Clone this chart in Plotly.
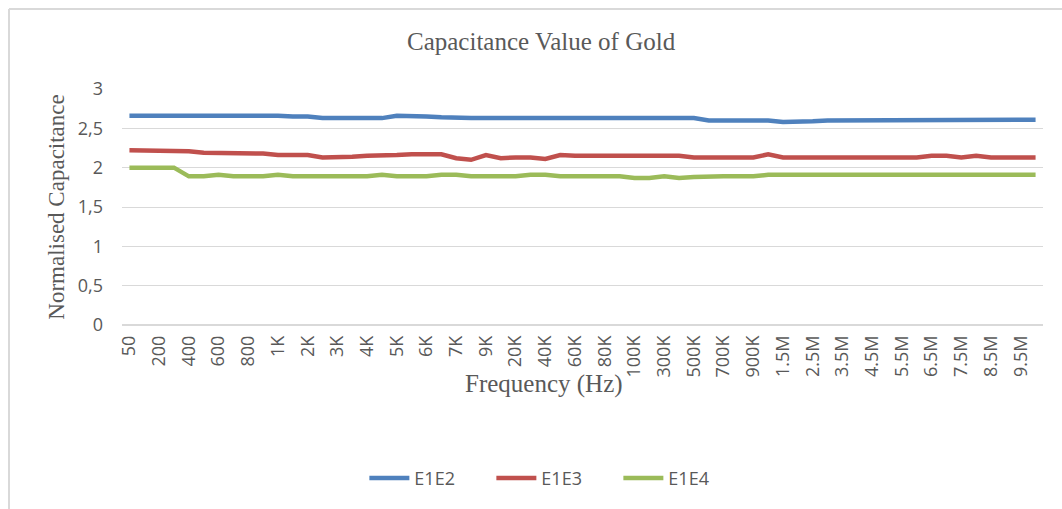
import plotly.graph_objects as go

freqs = ["50", "100", "200", "300", "400", "500", "600", "700", "800", "900",
         "1K", "1.5K", "2K", "2.5K", "3K", "3.5K", "4K", "4.5K", "5K", "5.5K",
         "6K", "6.5K", "7K", "8K", "9K", "10K", "20K", "30K", "40K", "50K",
         "60K", "70K", "80K", "90K", "100K", "200K", "300K", "400K", "500K", "600K",
         "700K", "800K", "900K", "1M", "1.5M", "2M", "2.5M", "3M", "3.5M", "4M",
         "4.5M", "5M", "5.5M", "6M", "6.5M", "7M", "7.5M", "8M", "8.5M", "9M",
         "9.5M", "10M"]

e1e2 = [2.66, 2.66, 2.67, 2.67, 2.67, 2.66, 2.66, 2.66, 2.66, 2.66,
        2.66, 2.65, 2.65, 2.63, 2.63, 2.63, 2.63, 2.63, 2.66, 2.66,
        2.65, 2.64, 2.63, 2.63, 2.63, 2.63, 2.63, 2.63, 2.63, 2.63,
        2.63, 2.63, 2.63, 2.63, 2.63, 2.63, 2.63, 2.63, 2.63, 2.60,
        2.60, 2.60, 2.60, 2.60, 2.58, 2.58, 2.59, 2.60, 2.60, 2.60,
        2.60, 2.60, 2.60, 2.60, 2.60, 2.60, 2.60, 2.60, 2.60, 2.60,
        2.61, 2.61]

e1e3 = [2.22, 2.22, 2.21, 2.21, 2.21, 2.19, 2.19, 2.19, 2.19, 2.18,
        2.16, 2.16, 2.16, 2.13, 2.13, 2.14, 2.15, 2.15, 2.16, 2.17,
        2.17, 2.17, 2.12, 2.10, 2.16, 2.12, 2.13, 2.13, 2.11, 2.16,
        2.15, 2.15, 2.15, 2.15, 2.15, 2.15, 2.15, 2.15, 2.13, 2.13,
        2.13, 2.13, 2.13, 2.17, 2.13, 2.13, 2.13, 2.13, 2.13, 2.13,
        2.13, 2.13, 2.13, 2.13, 2.15, 2.15, 2.13, 2.15, 2.13, 2.13,
        2.13, 2.13]

e1e4 = [2.00, 2.00, 2.00, 2.00, 1.89, 1.89, 1.91, 1.89, 1.89, 1.89,
        1.91, 1.89, 1.89, 1.89, 1.89, 1.89, 1.89, 1.91, 1.89, 1.89,
        1.89, 1.91, 1.91, 1.89, 1.89, 1.89, 1.89, 1.91, 1.91, 1.89,
        1.89, 1.89, 1.89, 1.89, 1.87, 1.87, 1.89, 1.87, 1.88, 1.89,
        1.89, 1.89, 1.89, 1.91, 1.91, 1.91, 1.91, 1.91, 1.91, 1.91,
        1.91, 1.91, 1.91, 1.91, 1.91, 1.91, 1.91, 1.91, 1.91, 1.91,
        1.91, 1.91]

series = [("E1E2", e1e2, "#4f81bd"), ("E1E3", e1e3, "#c0504d"), ("E1E4", e1e4, "#9bbb59")]

fig = go.Figure()
for name, vals, color in series:
    fig.add_trace(go.Scatter(x=freqs, y=vals, mode="lines", name=name,
                             line=dict(color=color, width=4.5)))

serif = "Liberation Serif, Times New Roman, serif"
sans = "Open Sans, Liberation Sans, sans-serif"

fig.update_layout(
    width=1062, height=509,
    margin=dict(l=122, r=19, t=89, b=184),
    paper_bgcolor="white", plot_bgcolor="white",
    separators=", ",
    showlegend=True,
    legend=dict(orientation="h", x=0.47, xanchor="center", y=-0.65, yanchor="middle",
                entrywidth=72, itemwidth=40,
                font=dict(family=sans, size=18, color="#595959")),
    xaxis=dict(type="category", tickangle=-90, showgrid=False, showline=False,
               tickmode="array", tickvals=freqs[::2], ticktext=freqs[::2],
               tickfont=dict(family=sans, size=18, color="#595959"), ticks="",
               ticklabelstandoff=6,
               range=[-0.5, len(freqs) - 0.5]),
    yaxis=dict(range=[0, 3], dtick=0.5, showgrid=True, gridcolor="#d9d9d9", gridwidth=1,
               zeroline=True, zerolinecolor="#d9d9d9", showline=False, ticks="",
               ticklabelstandoff=18,
               tickfont=dict(family=sans, size=18, color="#595959")),
    annotations=[
        dict(text="Capacitance Value of Gold", x=0.455, xref="paper", y=1.2, yref="paper",
             xanchor="center", yanchor="middle", showarrow=False,
             font=dict(family=serif, size=25, color="#595959")),
        dict(text="Normalised Capacitance", x=-0.072, xref="paper", y=0.5, yref="paper",
             textangle=-90, xanchor="center", yanchor="middle", showarrow=False,
             font=dict(family=serif, size=23, color="#595959")),
        dict(text="Frequency (Hz)", x=0.458, xref="paper", y=-0.25, yref="paper",
             xanchor="center", yanchor="middle", showarrow=False,
             font=dict(family=serif, size=25, color="#595959")),
    ],
    shapes=[
        dict(type="line", xref="paper", yref="paper", x0=(9 - 122) / 921, x1=(1062 - 122) / 921,
             y0=(325 - 9) / 236, y1=(325 - 9) / 236, line=dict(color="#d9d9d9", width=2)),
        dict(type="line", xref="paper", yref="paper", x0=(9 - 122) / 921, x1=(9 - 122) / 921,
             y0=(325 - 9) / 236, y1=(325 - 509) / 236, line=dict(color="#d9d9d9", width=2)),
    ],
)

fig.write_html("out.html", config={"displayModeBar": False},
               post_script="document.body.style.margin='0';")
